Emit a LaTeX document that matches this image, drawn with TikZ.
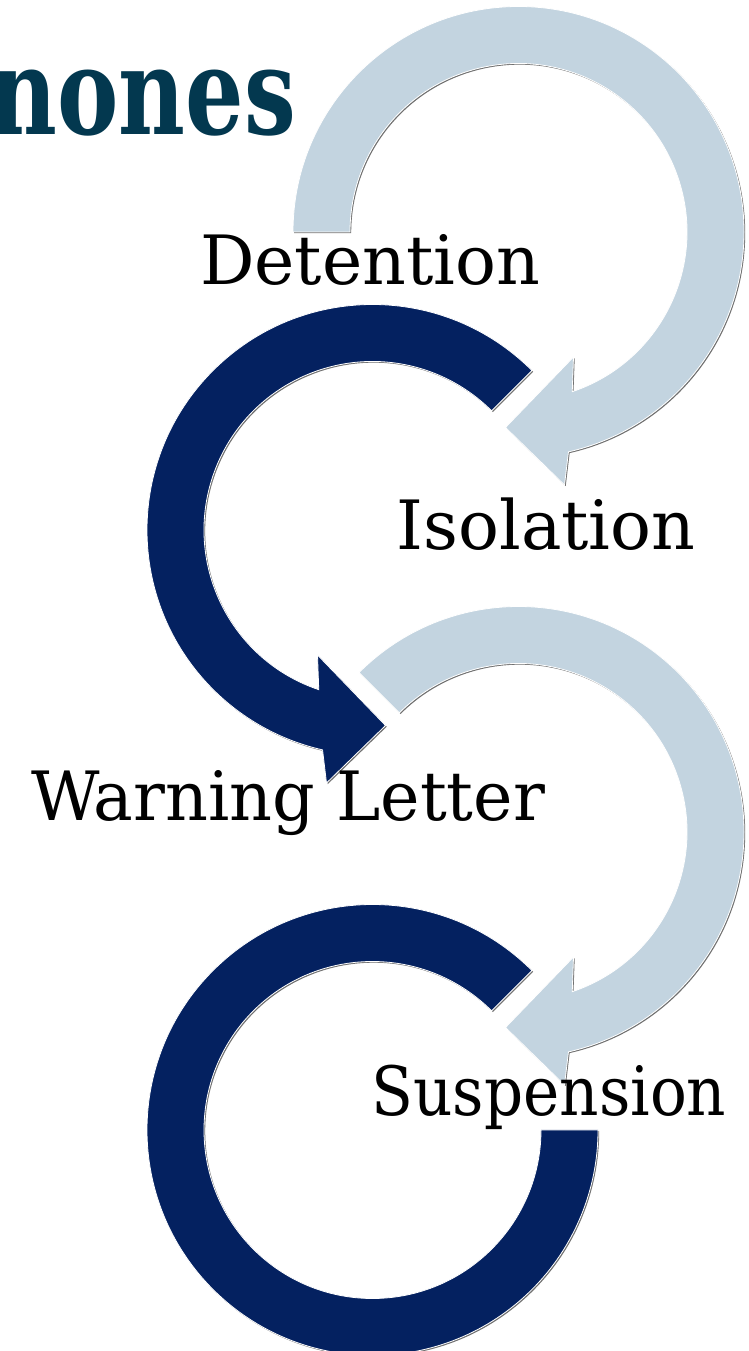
\documentclass[tikz,border=0pt]{standalone}
\usepackage{graphicx}
\usepackage{fontspec}
\setmainfont{DejaVu Serif}
\definecolor{lightarc}{HTML}{C3D4E0}
\definecolor{darkarc}{HTML}{042160}
\definecolor{titlec}{HTML}{03384F}
\definecolor{shadowc}{HTML}{707070}
\tikzset{
  arrowfill/.style={draw=white, line width=0.8pt},
  arrowshadow/.style={fill=shadowc, shift={(1.2,-1.2)}},
  labeltext/.style={font=\fontsize{68}{80}\selectfont, text=black, inner sep=0pt, anchor=base},
  titletext/.style={font=\fontsize{121}{140}\selectfont\bfseries, text=titlec, inner sep=0pt, anchor=base east}
}
% light arrow: centre (#1,#2), tail angle #3, options #4
\newcommand\lightarw[4]{%
  \fill[#4, shift={(#1,#2)}] (#3:225.5) arc[start angle=#3, end angle=-77.2, radius=225.5pt]
    -- (46,-253) -- (-13,-195.5) -- (55,-125) -- (-71.4:168.5)
    arc[start angle=-71.4, end angle=#3, radius=168.5pt] -- cycle;}
% dark arrow: centre (#1,#2), tail angle #3, options #4
\newcommand\darkarw[4]{%
  \fill[#4, shift={(#1,#2)}] (#3:225.5) arc[start angle=#3, end angle=257.2, radius=225.5pt]
    -- (-46,-253) -- (13,-195.5) -- (-55,-125) -- (251.4:168.5)
    arc[start angle=251.4, end angle=#3, radius=168.5pt] -- cycle;}
\newcommand\darkring[3]{%
  \fill[#3, shift={(#1,#2)}] (45:225.5) arc[start angle=45, end angle=360, radius=225.5pt]
    -- (0:168.5) arc[start angle=360, end angle=45, radius=168.5pt] -- cycle;}
\begin{document}
\begin{tikzpicture}[x=1pt,y=1pt]
\useasboundingbox (0,0) rectangle (749,1351);
\fill[white] (0,0) rectangle (749,1351);

% shadows
\lightarw{518.5}{1119}{180}{arrowshadow}
\darkarw{372.5}{821}{45}{arrowshadow}
\lightarw{518.5}{519}{135}{arrowshadow}
\darkring{372.5}{221}{arrowshadow}

% arrows
\lightarw{518.5}{1119}{180}{lightarc, arrowfill}
\darkarw{372.5}{821}{45}{darkarc, arrowfill}
\lightarw{518.5}{519}{135}{lightarc, arrowfill}
\darkring{372.5}{221}{darkarc, arrowfill}

% title (cut at the left edge, as in the reference)
\node[titletext] (title) at (296,1216) {\scalebox{0.76}[1]{nones}};

% labels
\node[labeltext] (detention) at (370,1066) {Detention};
\node[labeltext] (isolation) at (546,801) {Isolation};
\node[labeltext] (warning) at (288,530) {\scalebox{0.98}[1]{Warning Letter}};
\node[labeltext] (suspension) at (549,235) {\scalebox{0.9}[1]{Suspension}};
\end{tikzpicture}
\end{document}
